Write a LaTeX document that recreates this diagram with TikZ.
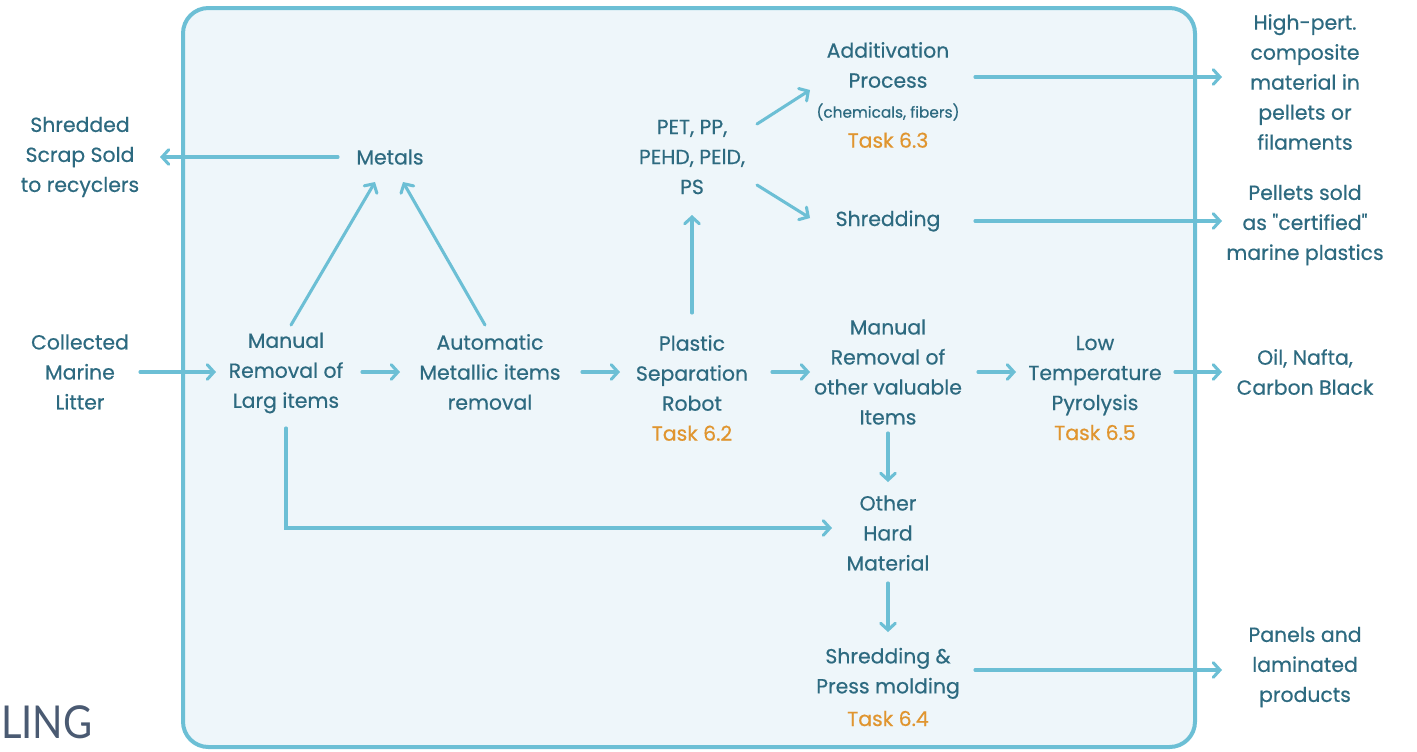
\documentclass[tikz,border=0pt]{standalone}
\usepackage{fontspec}
\setmainfont{Poppins}[FakeBold=0.5]
\newfontfamily\lingfont{Lato}[FakeStretch=0.88]
\usetikzlibrary{arrows.meta,calc}
\definecolor{txt}{HTML}{2D6A80}
\definecolor{task}{HTML}{E0952F}
\definecolor{boxline}{HTML}{6CBFD5}
\definecolor{boxfill}{HTML}{EEF6FA}
\definecolor{lingc}{HTML}{4A5A72}
\newcommand{\tsk}[1]{\textcolor{task}{#1}}
\begin{document}
\begin{tikzpicture}[x=0.75pt,y=-0.75pt,
  lbl/.style={text=txt, align=center, font=\fontsize{15.3}{22.5}\selectfont, inner sep=0pt},
  arr/.style={draw=boxline, line width=2.3pt, line cap=round, -{Straight Barb[length=5pt,width=11pt,line cap=round]}}]
\useasboundingbox (0,0) rectangle (1417,751);
\draw[line width=3pt, draw=boxline, fill=boxfill, rounded corners=19pt] (183,8) rectangle (1195,747);

\node[text=lingc, font=\lingfont\fontsize{34}{36}\selectfont, anchor=west, inner sep=0pt] (ling) at (1,722) {LING};

\node[lbl] (shred) at (80,157) {Shredded\\Scrap Sold\\to recyclers};
\node[lbl] (metals) at (390,157) {Metals};
\node[lbl] (coll) at (80,372) {Collected\\Marine\\Litter};
\node[lbl] (man) at (286,373) {Manual\\Removal of\\Larg items};
\node[lbl] (auto) at (490,372) {Automatic\\Metallic items\\removal};
\node[lbl] (plast) at (692,388) {Plastic\\Separation\\Robot\\\tsk{Task 6.2}};
\node[lbl] (pet) at (692,157) {PET, PP,\\PEHD, PElD,\\PS};
\node[lbl] (addi) at (888,95) {Additivation\\Process\\{\fontsize{11.5}{22.5}\selectfont (chemicals, fibers)}\\\tsk{Task 6.3}};
\node[lbl] (shrd) at (888,221) {Shredding};
\node[lbl] (mano) at (888,372) {Manual\\Removal of\\other valuable\\Items};
\node[lbl] (low) at (1095,388) {Low\\Temperature\\Pyrolysis\\\tsk{Task 6.5}};
\node[lbl] (hard) at (888,533) {Other\\Hard\\Material};
\node[lbl] (press) at (888,687) {Shredding \&\\Press molding\\[2pt]\tsk{Task 6.4}};
\node[lbl] (high) at (1305,82) {High-pert.\\composite\\material in\\pellets or\\filaments};
\node[lbl] (pell) at (1305,225) {Pellets sold\\as \textquotedbl certified\textquotedbl\\marine plastics};
\node[lbl] (oil) at (1305,372) {Oil, Nafta,\\Carbon Black};
\node[lbl] (panel) at (1305,667) {Panels and\\laminated\\products};

\draw[arr] ($(metals)+(-52,0)$) -- ($(shred)+(80,0)$);
\draw[arr] ($(man)+(5,-48)$) -- ($(metals)+(-15,25)$);
\draw[arr] ($(auto)+(-5,-47)$) -- ($(metals)+(13,25)$);
\draw[arr] ($(coll)+(60,0)$) -- ($(man)+(-70,-1)$);
\draw[arr] ($(man)+(76,-1)$) -- ($(auto)+(-90,0)$);
\draw[arr] ($(auto)+(92,0)$) -- ($(plast)+(-72,-16)$);
\draw[arr] ($(plast)+(80,-16)$) -- ($(mano)+(-78,0)$);
\draw[arr] ($(mano)+(90,0)$) -- ($(low)+(-79,-16)$);
\draw[arr] ($(low)+(80,-16)$) -- ($(oil)+(-83,0)$);
\draw[arr] ($(plast)+(0,-75)$) -- ($(pet)+(0,58)$);
\draw[arr] ($(pet)+(65,-33)$) -- ($(addi)+(-78,-5)$);
\draw[arr] ($(pet)+(65,28)$) -- ($(shrd)+(-78,-3)$);
\draw[arr] ($(addi)+(87,-18)$) -- ($(high)+(-83,-5)$);
\draw[arr] ($(shrd)+(87,0)$) -- ($(pell)+(-83,-4)$);
\draw[arr] ($(man)+(0,55)$) |- ($(hard)+(-56,-5)$);
\draw[arr] ($(mano)+(0,61)$) -- ($(hard)+(0,-51)$);
\draw[arr] ($(hard)+(0,50)$) -- ($(press)+(0,-55)$);
\draw[arr] ($(press)+(87,-17)$) -- ($(panel)+(-83,3)$);
\end{tikzpicture}
\end{document}
